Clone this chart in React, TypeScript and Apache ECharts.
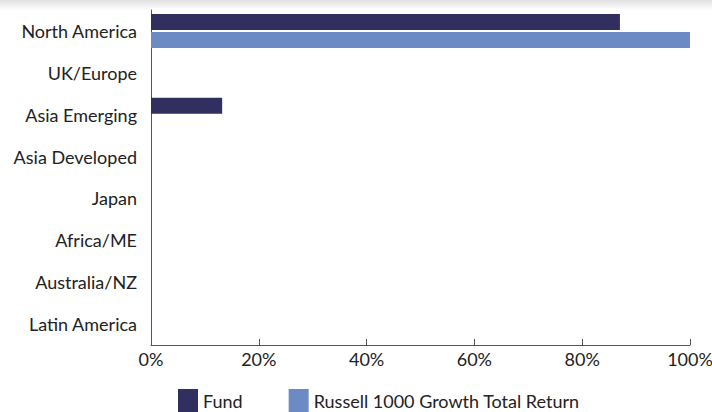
import React, { useEffect, useRef } from "react";
import * as echarts from "echarts";

const categories = [
  "North America",
  "UK/Europe",
  "Asia Emerging",
  "Asia Developed",
  "Japan",
  "Africa/ME",
  "Australia/NZ",
  "Latin America",
];
const fundValues = [87.0, 0, 13.2, 0, 0, 0, 0, 0];
const benchmarkValues = [100.0, 0, 0, 0, 0, 0, 0, 0];
const seriesNames = ["Fund", "Russell 1000 Growth Total Return"];

const FONT = "Lato, 'Open Sans', sans-serif";

export default function App() {
  const ref = useRef<HTMLDivElement>(null);
  useEffect(() => {
    if (!ref.current) return;
    const chart = echarts.init(ref.current, undefined, { renderer: "svg" });
    chart.setOption({
      animation: false,
      backgroundColor: "#ffffff",
      textStyle: { fontFamily: FONT },
      graphic: [
        {
          type: "rect",
          left: 0,
          top: 0,
          shape: { width: 712, height: 10 },
          style: {
            fill: new echarts.graphic.LinearGradient(0, 0, 0, 1, [
              { offset: 0, color: "rgba(0,0,0,0.12)" },
              { offset: 1, color: "rgba(0,0,0,0)" },
            ]),
          },
          silent: true,
        },
      ],
      grid: {
        left: 151,
        right: 22,
        top: 10,
        bottom: 67,
        containLabel: false,
        outerBoundsMode: "none",
      },
      legend: {
        top: 389,
        left: 178,
        padding: 0,
        itemWidth: 20,
        itemHeight: 24,
        itemGap: 46,
        icon: "rect",
        textStyle: { fontFamily: FONT, fontSize: 18, color: "#222", padding: [4, 0, 0, 0] },
        data: seriesNames,
      },
      xAxis: {
        type: "value",
        min: 0,
        max: 100,
        interval: 20,
        axisLine: { show: true, lineStyle: { color: "#555", width: 1 } },
        axisTick: { show: true, inside: true, length: 6, lineStyle: { color: "#555" } },
        splitLine: { show: false },
        axisLabel: {
          formatter: "{value}%",
          fontFamily: FONT,
          fontSize: 18,
          color: "#222",
          margin: 5,
        },
      },
      yAxis: {
        type: "category",
        inverse: true,
        data: categories,
        axisLine: { show: true, lineStyle: { color: "#555", width: 1 } },
        axisTick: { show: false },
        axisLabel: { fontFamily: FONT, fontSize: 18, color: "#222", margin: 14 },
      },
      series: [
        {
          name: seriesNames[0],
          type: "bar",
          data: fundValues,
          barWidth: 16,
          barGap: "12%",
          itemStyle: { color: "#312f5f" },
        },
        {
          name: seriesNames[1],
          type: "bar",
          data: benchmarkValues,
          barWidth: 16,
          barGap: "12%",
          itemStyle: { color: "#6c8ac4" },
        },
      ],
    });
    return () => chart.dispose();
  }, []);
  return (
    <div
      ref={ref}
      style={{ position: "fixed", left: 0, top: 0, width: 712, height: 412 }}
    />
  );
}
